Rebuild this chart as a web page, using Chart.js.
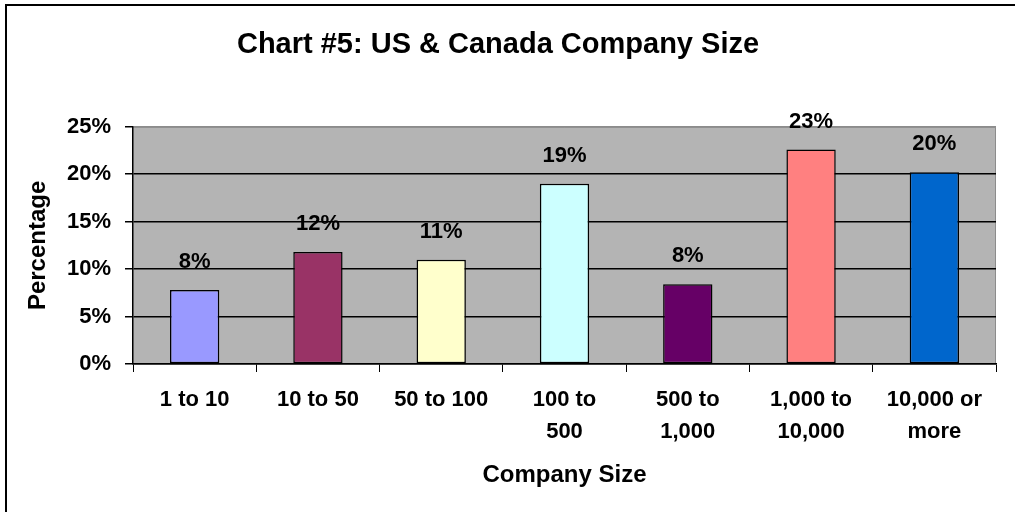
<!DOCTYPE html>
<html>
<head>
<meta charset="utf-8">
<script src="https://cdn.jsdelivr.net/npm/chart.js@4.4.0/dist/chart.umd.min.js"></script>
<style>
  html, body { margin: 0; padding: 0; background: #fff; overflow: hidden; }
  #wrap { position: relative; width: 1015px; height: 512px; }
  #frame { position: absolute; left: 5px; top: 4px; width: 1100px; height: 600px; border: 2px solid #000; pointer-events: none; }
</style>
</head>
<body>
<div id="wrap">
  <canvas id="sizeChart" width="1015" height="512"></canvas>
  <div id="frame"></div>
</div>
<script>
const sizeLabels = [
  ['1 to 10'], ['10 to 50'], ['50 to 100'], ['100 to', '500'],
  ['500 to', '1,000'], ['1,000 to', '10,000'], ['10,000 or', 'more']
];
const sizeValues = [7.8, 11.8, 11.0, 19.0, 8.4, 22.6, 20.2];
const valueLabels = ['8%', '12%', '11%', '19%', '8%', '23%', '20%'];
const barColors = ['#9999FF', '#993366', '#FFFFCC', '#CCFFFF', '#660066', '#FF8080', '#0066CC'];

const fontFamily = '"Liberation Sans", Arial, sans-serif';

// grey plot background with light edge on top/right
const plotBackground = {
  id: 'plotBackground',
  beforeDraw(chart) {
    const { ctx, chartArea: a } = chart;
    ctx.save();
    ctx.fillStyle = '#B4B4B4';
    ctx.fillRect(a.left, a.top, a.right - a.left, a.bottom - a.top);
    ctx.strokeStyle = '#8C8C8C';
    ctx.lineWidth = 1;
    ctx.beginPath();
    ctx.moveTo(a.left, a.top + 0.5);
    ctx.lineTo(a.right - 0.5, a.top + 0.5);
    ctx.lineTo(a.right - 0.5, a.bottom);
    ctx.stroke();
    ctx.restore();
  }
};

const barValueLabels = {
  id: 'barValueLabels',
  afterDatasetsDraw(chart) {
    const { ctx } = chart;
    const meta = chart.getDatasetMeta(0);
    ctx.save();
    ctx.font = 'bold 22px ' + fontFamily;
    ctx.fillStyle = '#000';
    ctx.textAlign = 'center';
    ctx.textBaseline = 'middle';
    meta.data.forEach((bar, i) => {
      ctx.fillText(valueLabels[i], bar.x, bar.y - 28);
    });
    ctx.restore();
  }
};

const ctx = document.getElementById('sizeChart').getContext('2d');
new Chart(ctx, {
  type: 'bar',
  data: {
    labels: sizeLabels,
    datasets: [{
      data: sizeValues,
      backgroundColor: barColors,
      borderColor: '#000',
      borderWidth: 1.5,
      borderSkipped: false,
      barPercentage: 0.4,
      categoryPercentage: 1.0
    }]
  },
  options: {
    responsive: false,
    animation: false,
    layout: { padding: { left: 0, right: 19, top: 0, bottom: 0 } },
    plugins: {
      legend: { display: false },
      tooltip: { enabled: false },
      title: {
        display: true,
        text: 'Chart #5: US & Canada Company Size',
        color: '#000',
        font: { family: fontFamily, size: 29, weight: 'bold' },
        padding: { top: 28, bottom: 64 }
      }
    },
    scales: {
      x: {
        grid: {
          display: true,
          drawOnChartArea: false,
          drawTicks: true,
          tickLength: 8,
          color: '#000',
          offset: true
        },
        border: { color: '#000', width: 1.5 },
        ticks: {
          color: '#000',
          padding: 12,
          maxRotation: 0,
          autoSkip: false,
          font: { family: fontFamily, size: 22, weight: 'bold', lineHeight: 1.4545 }
        },
        title: {
          display: true,
          text: 'Company Size',
          color: '#000',
          font: { family: fontFamily, size: 24, weight: 'bold' },
          padding: { top: 14, bottom: 22 }
        },
        afterFit(scale) { scale.height = 148; }
      },
      y: {
        min: 0,
        max: 25,
        grid: {
          color: (c) => (c.tick && c.tick.value === 25 ? '#8C8C8C' : '#000'),
          tickColor: '#000',
          lineWidth: 1.5,
          tickLength: 8
        },
        border: { color: '#000', width: 1.5 },
        ticks: {
          stepSize: 5,
          color: '#000',
          padding: 14,
          callback: (v) => v + '%',
          font: { family: fontFamily, size: 22, weight: 'bold' }
        },
        title: {
          display: true,
          text: 'Percentage',
          color: '#000',
          font: { family: fontFamily, size: 24, weight: 'bold' },
          padding: { top: 24, bottom: 10 }
        },
        afterFit(scale) { scale.width = 133; }
      }
    }
  },
  plugins: [plotBackground, barValueLabels]
});
</script>
</body>
</html>
